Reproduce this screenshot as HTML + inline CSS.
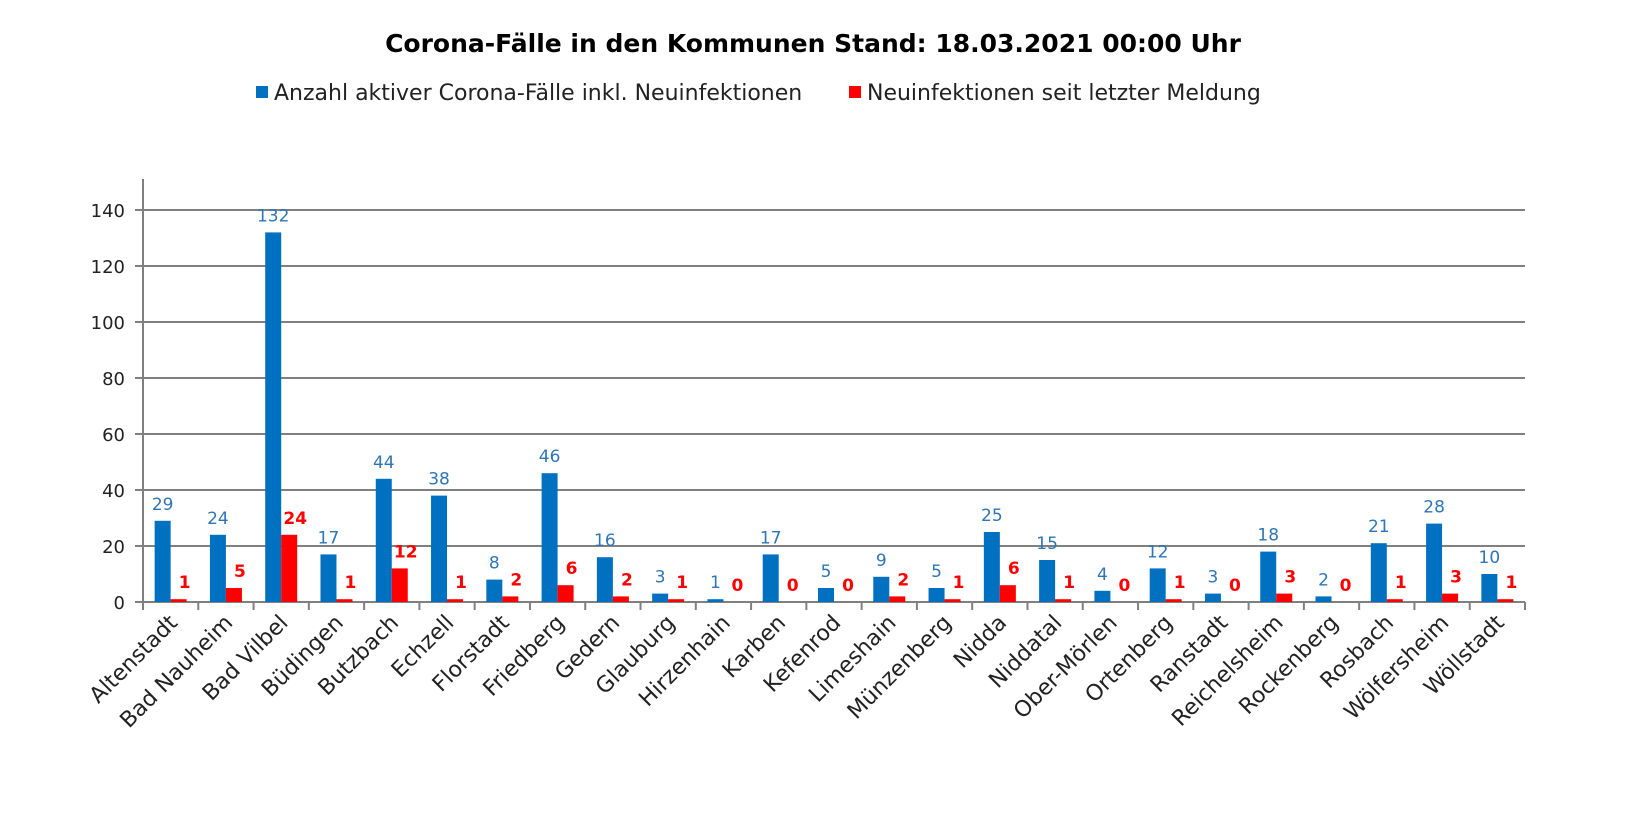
<!DOCTYPE html><html><head><meta charset="utf-8"><style>body{margin:0;background:#fff}svg{display:block}</style></head><body>
<svg width="1626" height="824" xmlns="http://www.w3.org/2000/svg" font-family="DejaVu Sans, sans-serif">
<text x="813" y="52" text-anchor="middle" font-size="25" font-weight="bold">Corona-Fälle in den Kommunen Stand: 18.03.2021 00:00 Uhr</text>
<rect x="256" y="86" width="12" height="12" fill="#0070c0"/><text x="274" y="100" font-size="22" fill="#222">Anzahl aktiver Corona-Fälle inkl. Neuinfektionen</text>
<rect x="849" y="86" width="12" height="12" fill="#f00"/><text x="867" y="100" font-size="22" fill="#222">Neuinfektionen seit letzter Meldung</text>
<g id="c"></g>
</svg>
<script>
const names=["Altenstadt","Bad Nauheim","Bad Vilbel","Büdingen","Butzbach","Echzell","Florstadt","Friedberg","Gedern","Glauburg","Hirzenhain","Karben","Kefenrod","Limeshain","Münzenberg","Nidda","Niddatal","Ober-Mörlen","Ortenberg","Ranstadt","Reichelsheim","Rockenberg","Rosbach","Wölfersheim","Wöllstadt"];
const a=[29,24,132,17,44,38,8,46,16,3,1,17,5,9,5,25,15,4,12,3,18,2,21,28,10];
const n=[1,5,24,1,12,1,2,6,2,1,0,0,0,2,1,6,1,0,1,0,3,0,1,3,1];
const x0=143,x1=1525,y0=602,k=2.8,w=(x1-x0)/25;let s="";
for(let v=0;v<=140;v+=20){const y=y0-v*k;s+=`<line x1="${x0-8}" x2="${x1}" y1="${y}" y2="${y}" stroke="#808080" stroke-width="2"/><text x="${x0-18}" y="${y+7}" text-anchor="end" font-size="18" fill="#222">${v}</text>`;}
s+=`<line x1="${x0}" x2="${x0}" y1="179" y2="${y0}" stroke="#808080" stroke-width="2"/>`;
for(let i=0;i<=25;i++){const x=x0+i*w;s+=`<line x1="${x}" x2="${x}" y1="${y0}" y2="${y0+8}" stroke="#808080" stroke-width="2"/>`;}
for(let i=0;i<25;i++){const c=x0+(i+0.5)*w;const ha=a[i]*k,hn=n[i]*k;
s+=`<rect x="${c-16}" y="${y0-ha}" width="16" height="${ha}" fill="#0070c0"/><rect x="${c}" y="${y0-hn}" width="16" height="${hn}" fill="#f00"/>`;
s+=`<text x="${c-8}" y="${y0-ha-11}" text-anchor="middle" font-size="17" fill="#2e75b6">${a[i]}</text>`;
s+=`<text x="${c+14}" y="${y0-hn-11}" text-anchor="middle" font-size="17" font-weight="bold" fill="#f00">${n[i]}</text>`;
s+=`<text transform="translate(${c+8},${y0+22}) rotate(-45)" text-anchor="end" font-size="22" fill="#222">${names[i]}</text>`;}
document.getElementById("c").innerHTML=s;
</script>
</body></html>
